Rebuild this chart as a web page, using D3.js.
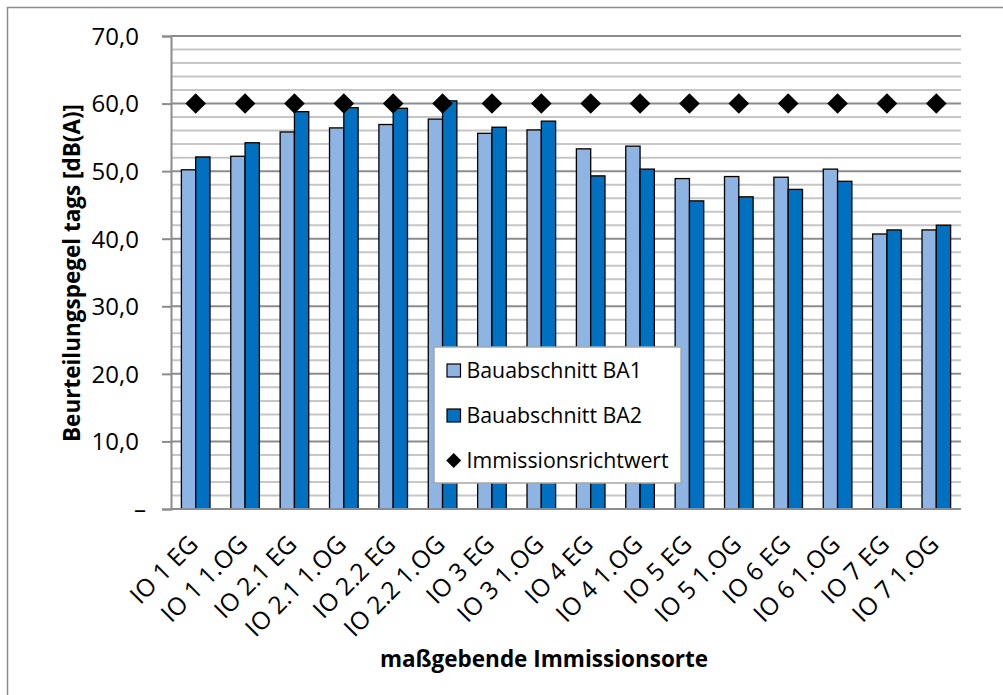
<!DOCTYPE html>
<html lang="de">
  <head>
    <meta charset="UTF-8" />
    <title>Beurteilungspegel tags</title>
    <script src="https://d3js.org/d3.v7.min.js"></script>
    <style>
      body { margin: 0; background: #fff; }
      svg text { font-family: "Open Sans", sans-serif; fill: #000; }
    </style>
  </head>
  <body></body>
  <script type="text/javascript">
    var width = 1003,
      height = 695;

    // Immissionsorte
    var categories = [
      'IO 1 EG', 'IO 1 1.OG', 'IO 2.1 EG', 'IO 2.1 1.OG',
      'IO 2.2 EG', 'IO 2.2 1.OG', 'IO 3 EG', 'IO 3 1.OG',
      'IO 4 EG', 'IO 4 1.OG', 'IO 5 EG', 'IO 5 1.OG',
      'IO 6 EG', 'IO 6 1.OG', 'IO 7 EG', 'IO 7 1.OG'
    ];
    var ba1 = [50.2, 52.2, 55.8, 56.4, 56.9, 57.7, 55.6, 56.1, 53.3, 53.7, 48.9, 49.2, 49.1, 50.3, 40.7, 41.3];
    var ba2 = [52.1, 54.2, 58.8, 59.4, 59.3, 60.4, 56.5, 57.4, 49.3, 50.3, 45.6, 46.2, 47.3, 48.5, 41.3, 42.0];
    var richtwert = [60, 60, 60, 60, 60, 60, 60, 60, 60, 60, 60, 60, 60, 60, 60, 60];
    var seriesNames = ['Bauabschnitt BA1', 'Bauabschnitt BA2', 'Immissionsrichtwert'];
    var seriesColors = ['#8db4e2', '#0070c0', '#000000'];
    var yTicks = [0, 10, 20, 30, 40, 50, 60, 70];

    var plot = { left: 171, right: 961, top: 36, bottom: 509 };

    var svg = d3.select('body').append('svg')
      .attr('width', width)
      .attr('height', height);

    // Rahmen (rechts/unten ausserhalb des Bildes)
    svg.append('rect')
      .attr('x', 7.5).attr('y', 7.5)
      .attr('width', width + 20).attr('height', height + 20)
      .attr('fill', '#fff')
      .attr('stroke', '#8c8c8c')
      .attr('stroke-width', 1.5);

    var x = d3.scaleBand().domain(categories).range([plot.left, plot.right]);
    var barW = 14.3;
    var inner = d3.scaleBand()
      .domain([0, 1])
      .range([x.bandwidth() / 2 - barW, x.bandwidth() / 2 + barW]);
    var y = d3.scaleLinear().domain([0, 70]).range([plot.bottom, plot.top]);

    var de = d3.formatLocale({ decimal: ',', thousands: '.', grouping: [3], currency: ['', ' €'] });
    var fmt = de.format('.1f');

    // Nebengitter (alle 2 dB)
    svg.append('g')
      .selectAll('line')
      .data(y.ticks(35).filter(d => d % 10 !== 0))
      .join('line')
      .attr('x1', plot.left).attr('x2', plot.right)
      .attr('y1', d => y(d)).attr('y2', d => y(d))
      .attr('stroke', '#c6c6c6')
      .attr('stroke-width', 2);

    // Hauptgitter
    svg.append('g')
      .selectAll('line')
      .data(yTicks.filter(d => d > 0))
      .join('line')
      .attr('x1', plot.left).attr('x2', plot.right)
      .attr('y1', d => y(d)).attr('y2', d => y(d))
      .attr('stroke', '#8c8c8c')
      .attr('stroke-width', 2);

    // y-Achse
    var yAxis = svg.append('g')
      .attr('transform', `translate(${plot.left},0)`)
      .call(d3.axisLeft(y).tickValues(yTicks).tickSize(9).tickPadding(23)
        .tickFormat(d => (d === 0 ? '–' : fmt(d))));
    yAxis.select('.domain').attr('stroke', '#8c8c8c').attr('stroke-width', 2);
    yAxis.selectAll('.tick line').attr('stroke', '#8c8c8c').attr('stroke-width', 2);
    yAxis.selectAll('.tick text')
      .attr('font-family', '"Open Sans", sans-serif')
      .attr('font-size', 24)
      .attr('fill', '#000')
      .attr('dy', '0.35em');
    yAxis.selectAll('.tick text').filter(d => d === 0).attr('dx', 7);

    // Balken
    var groups = svg.append('g')
      .selectAll('g')
      .data(categories)
      .join('g')
      .attr('transform', d => `translate(${x(d)},0)`);

    [ba1, ba2].forEach(function (vals, s) {
      groups.append('rect')
        .attr('x', inner(s))
        .attr('width', inner.bandwidth())
        .attr('y', (d, i) => y(vals[i]))
        .attr('height', (d, i) => y(0) - y(vals[i]))
        .attr('fill', seriesColors[s])
        .attr('stroke', '#000')
        .attr('stroke-width', 1.3);
    });

    // x-Achse
    svg.append('line')
      .attr('x1', plot.left).attr('x2', plot.right)
      .attr('y1', plot.bottom).attr('y2', plot.bottom)
      .attr('stroke', '#8c8c8c')
      .attr('stroke-width', 2);

    // Richtwert-Rauten
    var diamond = 'M0,-10.3L10.3,0L0,10.3L-10.3,0Z';
    svg.append('g')
      .selectAll('path')
      .data(richtwert)
      .join('path')
      .attr('d', diamond)
      .attr('transform', (d, i) => `translate(${x(categories[i]) + x.bandwidth() / 2},${y(d)})`)
      .attr('fill', '#000');

    // Kategorienbeschriftung
    svg.append('g')
      .selectAll('text')
      .data(categories)
      .join('text')
      .attr('transform', d => `translate(${x(d) + x.bandwidth() / 2 + 4},${plot.bottom + 37}) rotate(-45)`)
      .attr('text-anchor', 'end')
      .attr('font-size', 24.5)
      .text(d => d);

    // Achsentitel
    svg.append('text')
      .attr('transform', 'translate(80,273) rotate(-90)')
      .attr('text-anchor', 'middle')
      .attr('font-size', 22.5)
      .attr('font-weight', 'bold')
      .text('Beurteilungspegel tags [dB(A)]');

    svg.append('text')
      .attr('x', 544)
      .attr('y', 667)
      .attr('text-anchor', 'middle')
      .attr('font-size', 22.5)
      .attr('font-weight', 'bold')
      .text('maßgebende Immissionsorte');

    // Legende
    var legend = svg.append('g').attr('transform', 'translate(434,347)');
    legend.append('rect')
      .attr('width', 247).attr('height', 136)
      .attr('fill', '#fff')
      .attr('stroke', '#a6a6a6')
      .attr('stroke-width', 1.5);

    var items = legend.selectAll('g.item')
      .data(seriesNames)
      .join('g')
      .attr('class', 'item')
      .attr('transform', (d, i) => `translate(0,${23.5 + i * 45})`);

    items.filter((d, i) => i < 2)
      .append('rect')
      .attr('x', 13).attr('y', -6.5)
      .attr('width', 13.5).attr('height', 13)
      .attr('fill', (d, i) => seriesColors[i])
      .attr('stroke', '#000')
      .attr('stroke-width', 1.2);

    items.filter((d, i) => i === 2)
      .append('path')
      .attr('d', 'M0,-7.5L7.5,0L0,7.5L-7.5,0Z')
      .attr('transform', 'translate(19.7,0)')
      .attr('fill', '#000');

    items.append('text')
      .attr('x', 32.5)
      .attr('y', 7)
      .attr('font-size', 21.3)
      .text(d => d);
  </script>
</html>
